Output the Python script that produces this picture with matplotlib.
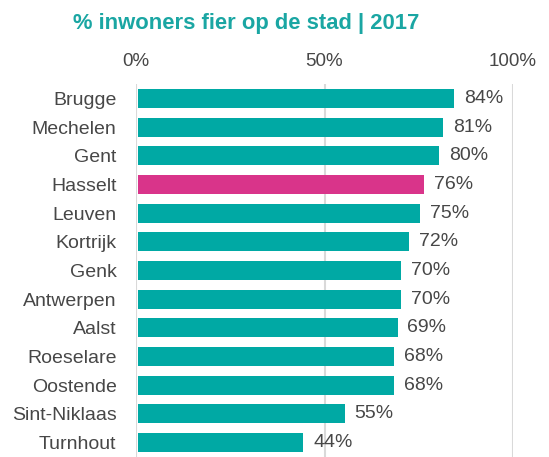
import matplotlib.pyplot as plt

plt.rcParams['font.family'] = ['Liberation Sans', 'DejaVu Sans']

steden = ["Brugge", "Mechelen", "Gent", "Hasselt", "Leuven", "Kortrijk", "Genk",
          "Antwerpen", "Aalst", "Roeselare", "Oostende", "Sint-Niklaas", "Turnhout"]
fier = [84, 81, 80, 76, 75, 72, 70, 70, 69, 68, 68, 55, 44]
highlight = "Hasselt"

teal = "#00A9A4"
roze = "#D9348A"
grijs = "#474747"

fig = plt.figure(figsize=(5.49, 4.57), dpi=100)
ax = fig.add_axes([136 / 549, 0, (513 - 136) / 549, 373 / 457])

kleuren = [roze if s == highlight else teal for s in steden]
ypos = list(range(len(steden)))
ax.barh(ypos, fier, height=0.66, color=kleuren, left=0.4, zorder=3)

for y, v in zip(ypos, fier):
    ax.text(v + 3.0, y, f"{v}%", va="center", ha="left", fontsize=14, color=grijs)

ax.set_xlim(0, 100)
ax.set_ylim(12.5, -0.5)
ax.set_yticks(ypos)
ax.set_yticklabels(steden, fontsize=14, color=grijs)
ax.set_xticks([0, 50, 100])
ax.set_xticklabels(["0%", "50%", "100%"], fontsize=13.5, color=grijs)
ax.xaxis.tick_top()
ax.tick_params(axis="x", length=0, pad=10)
ax.tick_params(axis="y", length=0, pad=14)
ax.grid(axis="x", color="#D9D9D9", linewidth=1.5, zorder=0)
for s in ax.spines.values():
    s.set_visible(False)

fig.text(73 / 549, 1 - 23 / 457, "% inwoners fier op de stad | 2017", fontsize=15.8,
         fontweight="bold", color="#1AA6A3", va="center", ha="left")

fig.savefig("out.png", dpi=100)
